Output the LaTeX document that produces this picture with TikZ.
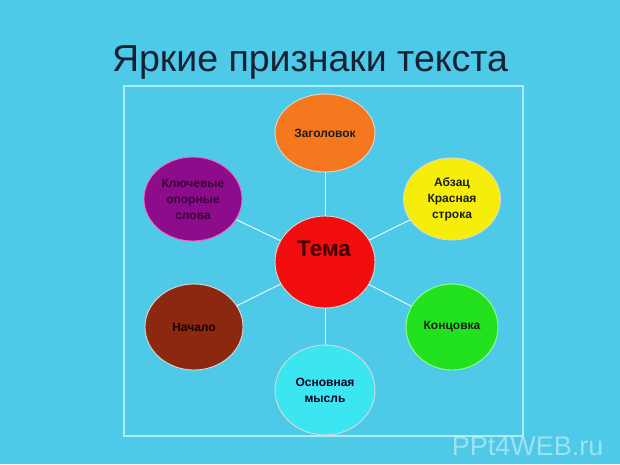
\documentclass[tikz,border=0pt]{standalone}
\usepackage{fontspec}
\setmainfont{Liberation Sans}
\usetikzlibrary{shapes.geometric}
\definecolor{bg}{RGB}{78,201,232}
\definecolor{framec}{RGB}{170,236,248}
\definecolor{titlec}{RGB}{22,34,52}
\definecolor{orangec}{RGB}{245,120,30}
\definecolor{yellowc}{RGB}{246,238,10}
\definecolor{purplec}{RGB}{140,12,140}
\definecolor{brownc}{RGB}{140,40,15}
\definecolor{greenc}{RGB}{34,225,30}
\definecolor{cyanc}{RGB}{60,230,240}
\definecolor{redc}{RGB}{242,14,14}
\definecolor{labelc}{RGB}{30,30,30}
\tikzset{
  bubble/.style={ellipse, draw=white!85!black, line width=0.9pt, inner sep=0pt,
    align=center, text=labelc, font=\bfseries\fontsize{12}{16}\selectfont},
  spoke/.style={draw=white!90!cyan, line width=1pt},
}
\begin{document}
\begin{tikzpicture}[x=1pt,y=-1pt]
\fill[bg] (0,0) rectangle (620,464);
\useasboundingbox (0,0) rectangle (620,464);
\node[text=titlec, font=\fontsize{37.5}{40}\selectfont, anchor=base] (title) at (310,71) {Яркие признаки текста};
\draw[framec, line width=1.2pt] (124,86) rectangle (523,436);
\node[bubble, fill=redc, minimum width=100pt, minimum height=92pt] (c) at (325,262) {};
\node[text=black!75!red, font=\bfseries\fontsize{22.5}{24}\selectfont] (tema) at (324,249) {Тема};
\node[bubble, fill=orangec, minimum width=100pt, minimum height=78pt] (zag) at (325,133) {Заголовок};
\node[bubble, fill=yellowc, minimum width=97pt, minimum height=82pt] (abz) at (452,199) {Абзац\\Красная\\строка};
\node[bubble, fill=purplec, draw=magenta!60!white, minimum width=98pt, minimum height=84pt, text=black!60!purplec] (klu) at (193,199) {Ключевые\\опорные\\слова};
\node[bubble, fill=brownc, minimum width=98pt, minimum height=86pt, text=black!85!brownc] (nach) at (194,327) {Начало};
\node[bubble, fill=greenc, draw=green!40!white, minimum width=92pt, minimum height=86pt] (konc) at (452,327) {Концовка};
\node[bubble, fill=cyanc, minimum width=100pt, minimum height=90pt, text=black!85!blue] (osn) at (325,390) {Основная\\мысль};
\foreach \t in {zag,abz,klu,nach,konc,osn}{\draw[spoke] (c) -- (\t);}
\node[text=white, opacity=0.45, font=\fontsize{27}{29}\selectfont, anchor=base east] (wm) at (607,455) {PPt4WEB.ru};
\end{tikzpicture}
\end{document}
